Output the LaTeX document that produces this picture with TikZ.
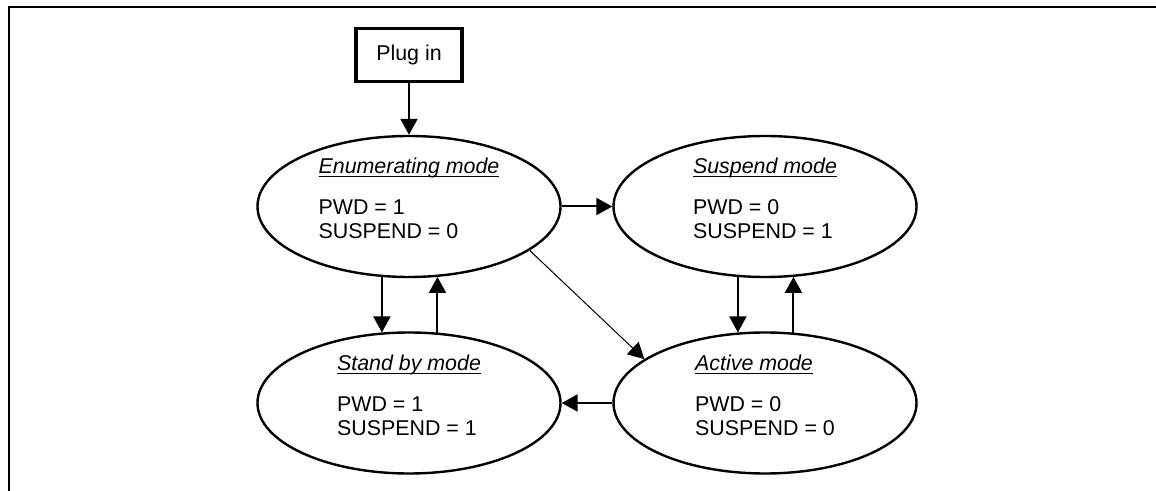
\documentclass[tikz,border=0pt]{standalone}
\usepackage{fontspec}
\setmainfont{Liberation Sans}
\usetikzlibrary{arrows.meta,shapes.geometric}
\tikzset{
  mode/.style={draw,ellipse,line width=1.2pt,minimum width=151.5pt,minimum height=70.5pt,
    inner sep=0pt,align=left,font=\fontsize{10.7pt}{12pt}\selectfont},
  plugbox/.style={draw,rectangle,line width=1.6pt,minimum width=53pt,minimum height=26.5pt,
    inner sep=0pt,font=\fontsize{10.7pt}{12pt}\selectfont},
  trans/.style={line width=1pt,-{Triangle[length=8pt,width=8.5pt]}},
  thintrans/.style={line width=0.5pt,-{Triangle[length=8pt,width=8.5pt]}}
}
\begin{document}
\begin{tikzpicture}[x=0.5pt,y=-0.5pt]
      \useasboundingbox (0,0) rectangle (1156,491);
      \draw[line width=1.15pt] (1156,7) -- (9,7) -- (9,491);
      \node[plugbox] (plug) at (409,55) {Plug in};
      \node[mode] (enum) at (409,206.5)
        {\underline{\smash{\textit{Enumerating mode}}}\\[8.5pt]PWD = 1\\SUSPEND = 0};
      \node[mode] (suspend) at (765,206.5)
        {\underline{\smash{\textit{Suspend mode}}}\\[8.5pt]PWD = 0\\SUSPEND = 1};
      \node[mode] (standby) at (409,403)
        {\underline{\smash{\textit{Stand by mode}}}\\[8.5pt]PWD = 1\\SUSPEND = 1};
      \node[mode] (active) at (765,403)
        {\underline{\smash{\textit{Active mode}}}\\[8.5pt]PWD = 0\\SUSPEND = 0};
      \begin{scope}
        \draw[trans] (plug) to (enum);
        \draw[trans] (enum) to (suspend);
        \draw[thintrans] (enum.-20) to (active.160);
        \draw[trans] (enum.-111.4) to (standby.111.4);
        \draw[trans] (standby.68.6) to (enum.-68.6);
        \draw[trans] (suspend.-111.4) to (active.111.4);
        \draw[trans] (active.68.6) to (suspend.-68.6);
        \draw[trans] (active) to (standby);
      \end{scope}
    \end{tikzpicture}
\end{document}
